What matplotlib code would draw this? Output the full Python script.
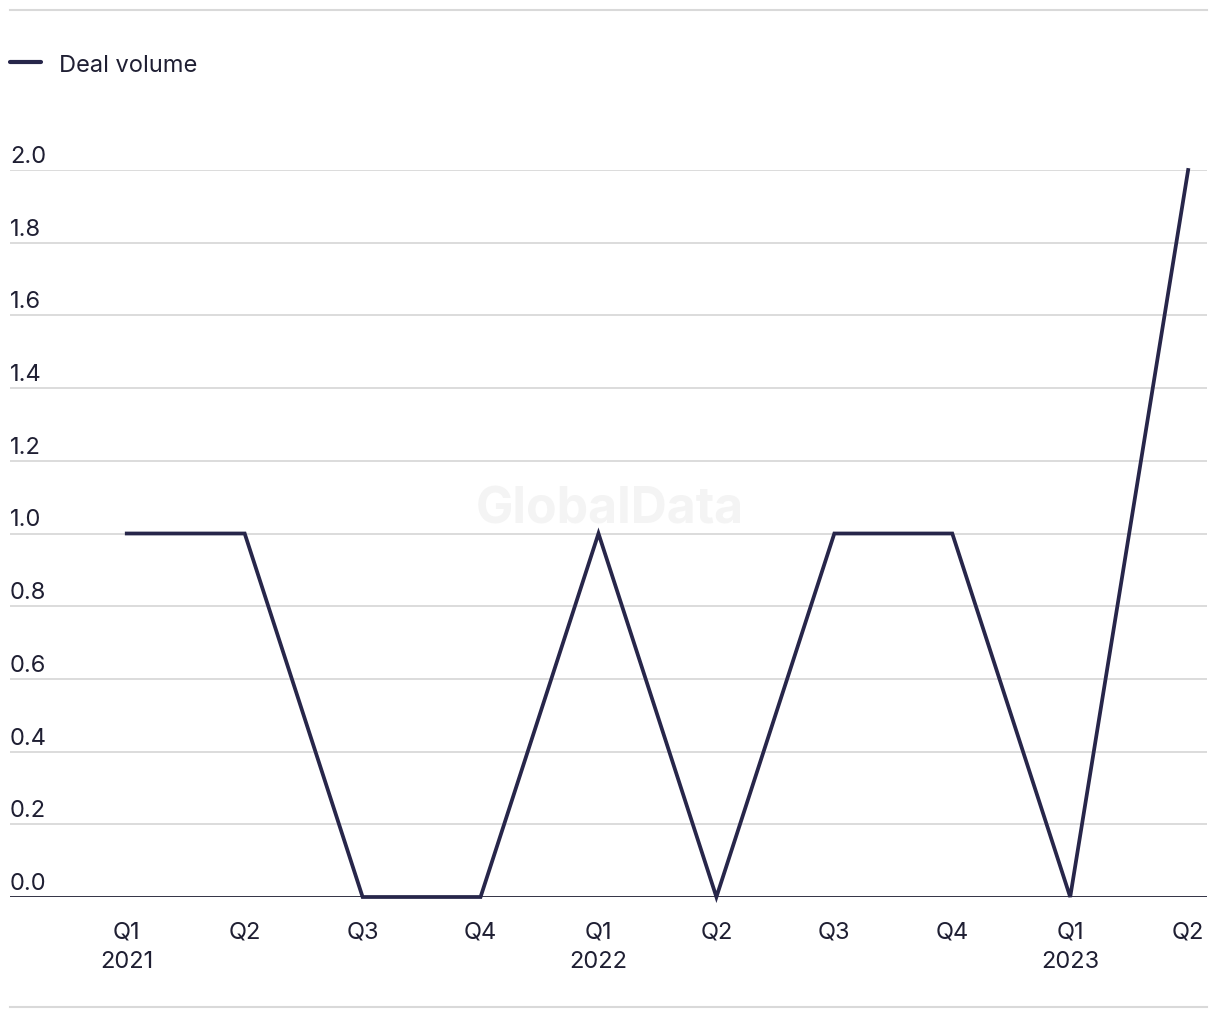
import matplotlib.pyplot as plt
import matplotlib.transforms as mtransforms
from matplotlib.lines import Line2D

# data
quarters = ['Q1\n2021', 'Q2', 'Q3', 'Q4', 'Q1\n2022', 'Q2', 'Q3', 'Q4', 'Q1\n2023', 'Q2']
deal_volume = [1, 1, 0, 0, 1, 0, 1, 1, 0, 2]
y_ticks = [0.0, 0.2, 0.4, 0.6, 0.8, 1.0, 1.2, 1.4, 1.6, 1.8, 2.0]

line_col = '#27264a'
text_col = '#1f1f33'
grid_col = '#d9d9d9'

plt.rcParams['font.family'] = ['Inter', 'DejaVu Sans']

fig = plt.figure(figsize=(12.2, 10.2), dpi=100)
ax = fig.add_axes([10/1220, 122/1020, 1197/1220, 727/1020])

x = list(range(len(quarters)))
ax.plot(x, deal_volume, color=line_col, lw=2.7, solid_joinstyle='miter', clip_on=False, zorder=3)

ax.set_xlim(-0.99, 9.16)
ax.set_ylim(0, 2.0)

# grid lines + y labels
for v in y_ticks:
    if v == 0:
        ax.axhline(v, color=text_col, lw=2.0, zorder=2)
    else:
        ax.axhline(v, color=grid_col, lw=1.3, zorder=1)
    tr = mtransforms.offset_copy(ax.get_yaxis_transform(), fig=fig, x=0, y=8, units='dots')
    ax.text(0, v, f'{v:.1f}', transform=tr, ha='left', va='baseline',
            fontsize=17, color=text_col)

ax.set_yticks([])
ax.set_xticks(x)
ax.set_xticklabels(quarters, fontsize=17, color=text_col, linespacing=1.45)
ax.tick_params(axis='x', length=0, pad=17)
for s in ax.spines.values():
    s.set_visible(False)

# watermark
ax.text(0.5, 0.5, 'GlobalData', transform=fig.transFigure, ha='center', va='center',
        fontsize=36, fontweight='bold', color='#f4f4f4', zorder=0)

# top and bottom rules
fig.add_artist(Line2D([10/1220, 1207/1220], [1 - 11/1020] * 2, color=grid_col, lw=1.5))
fig.add_artist(Line2D([10/1220, 1207/1220], [1 - 1008/1020] * 2, color=grid_col, lw=1.5))

# legend
fig.add_artist(Line2D([10/1220, 41/1220], [1 - 63/1020] * 2, color=line_col, lw=3,
                      solid_capstyle='round'))
fig.text(59/1220, 1 - 66/1020, 'Deal volume', ha='left', va='center', fontsize=17, color=text_col)

fig.savefig('out.png', dpi=100)
